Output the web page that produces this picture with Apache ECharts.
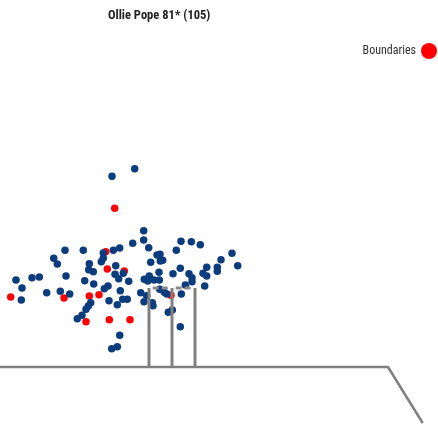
<!DOCTYPE html>
<html>
<head>
<meta charset="utf-8">
<script src="https://cdn.jsdelivr.net/npm/echarts@6/dist/echarts.min.js"></script>
<style>
  html, body { margin: 0; padding: 0; background: #fff; }
  #pitchMap { width: 438px; height: 433px; }
</style>
</head>
<body>
<div id="pitchMap"></div>
<script>
  // ball positions: [across, height above ground]
  const dotBalls = [
    [134.7,198.3],[112,190.7],[143.7,136.3],[143.7,127],[148.7,119.3],[181,125.7],[191.3,125.3],[200.3,122.3],
    [176.3,116.7],[132.7,123.7],[119.7,119],[113.3,116.7],[103.3,114],[65,116.7],[83.3,116.7],[53.7,108.7],
    [57.3,103],[101.3,105.3],[103.3,108.7],[89.3,103.3],[160,112.7],[160.3,106],[150.7,104.7],[232,113.7],
    [221,107.3],[237.7,101.3],[217.3,99.7],[217.3,95.7],[206.7,99.7],[203,93.7],[206.7,91],[204.7,81],
    [180.3,98.7],[173,93.3],[189,93.3],[192,89.3],[192,85.3],[185.3,82],[181.3,73],[159,94.7],[159.3,87],
    [149.3,91],[144.3,87.7],[147.7,86],[154,87],[159.7,77.7],[166.7,73],[164.3,74.7],[140.7,74.3],[146.7,71.3],
    [144,65.3],[152.3,64.3],[153,61.3],[172.3,57],[168.3,54.7],[180.3,40.3],[115.7,101.3],[123.3,93.7],
    [115,92.7],[118.7,88.3],[128.7,85.7],[88.7,97.3],[93.3,95.3],[66,91],[84.7,86.3],[93.7,83],[108,81],
    [104.3,78.3],[120.3,76.3],[16,87],[32,89.3],[39.3,90],[22,79],[21.3,67],[46.7,74.3],[60.3,75.7],[69.7,73],
    [90.7,64.3],[88.3,61],[86,57.7],[82,51.7],[77.3,48.3],[109,66.3],[117.3,62.3],[122.7,67.7],[127.3,67.7],
    [119.7,31.7],[117.3,20.3],[111.7,18.3],[157,112],[162.7,106.7]
  ];
  const boundaryBalls = [
    [114.7,158.7],[105.7,115.3],[107.3,98],[124.3,96],[171,71.7],[10.7,70],
    [64,69],[89.3,71],[99,72.3],[86,45.3],[109.3,47.3],[130,47.3]
  ];
  const stumpX = [149, 172, 195];
  const stumpHeight = 79;
  const bails = [[[152.7,79],[168.3,79]], [[175.7,79],[191,79]]];
  const ground = [[0,0],[388,0],[422.7,-56]];

  const fontFam = '"Roboto Condensed", "DejaVu Sans Condensed", sans-serif';

  let chart = echarts.init(document.getElementById('pitchMap'));

  let lineSeries = [];
  stumpX.forEach(function (x) {
    lineSeries.push({
      type: 'line', silent: true, symbol: 'none', z: 5,
      lineStyle: { color: '#808080', width: 3 },
      data: [[x, 0], [x, stumpHeight]]
    });
  });
  bails.forEach(function (b) {
    lineSeries.push({
      type: 'line', silent: true, symbol: 'none', z: 5,
      lineStyle: { color: '#8c8c8c', width: 3, type: [6, 3] },
      data: b
    });
  });
  lineSeries.push({
    type: 'line', silent: true, symbol: 'none', z: 5,
    lineStyle: { color: '#808080', width: 2.5 },
    data: ground
  });

  let option = {
    animation: false,
    backgroundColor: '#fff',
    title: {
      text: 'Ollie Pope 81* (105)',
      left: 108,
      top: 9,
      padding: 0,
      textStyle: {
        fontFamily: fontFam,
        fontWeight: 'bold',
        fontSize: 12.5,
        color: '#222'
      }
    },
    legend: {
      data: ['Boundaries'],
      right: 1,
      top: 43,
      padding: 0,
      align: 'right',
      icon: 'circle',
      itemWidth: 16,
      itemHeight: 16,
      itemGap: 4,
      textStyle: {
        fontFamily: fontFam,
        fontSize: 12,
        color: '#333'
      }
    },
    grid: { left: 0, right: 0, top: 0, bottom: 0 },
    xAxis: { type: 'value', min: 0, max: 438, show: false },
    yAxis: { type: 'value', min: -66, max: 367, show: false },
    series: [
      {
        name: 'Boundaries',
        type: 'scatter',
        symbolSize: 7.5,
        itemStyle: { color: '#ff0000', opacity: 1 },
        data: boundaryBalls
      },
      {
        name: 'Other',
        type: 'scatter',
        symbolSize: 7.5,
        itemStyle: { color: '#0b3c7d', opacity: 1 },
        data: dotBalls
      }
    ].concat(lineSeries)
  };
  chart.setOption(option);
</script>
</body>
</html>
